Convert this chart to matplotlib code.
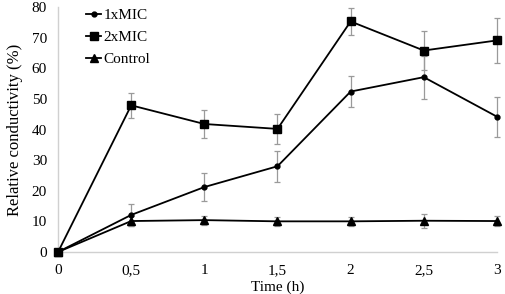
import matplotlib.pyplot as plt
import numpy as np

time = [0, 0.5, 1, 1.5, 2, 2.5, 3]
x_labels = ["0", "0,5", "1", "1,5", "2", "2,5", "3"]

mic1 = [0, 12.1, 21.2, 28.0, 52.4, 57.1, 44.2]
mic1_err = [0, 3.5, 4.6, 5.0, 5.0, 7.0, 6.5]
mic2 = [0, 47.9, 41.8, 40.2, 75.3, 65.8, 69.1]
mic2_err = [0, 4.0, 4.6, 5.0, 4.5, 6.3, 7.4]
control = [0, 10.1, 10.4, 10.0, 10.0, 10.2, 10.1]
control_err = [0, 1.5, 1.5, 1.5, 1.5, 2.3, 1.5]

plt.rcParams["font.family"] = ["Liberation Serif", "DejaVu Serif"]

fig = plt.figure(figsize=(5.05, 2.94), dpi=100)
ax = fig.add_axes([0.115, 0.143, 0.869, 0.833])

series = [
    (mic1, mic1_err, "o", 3.5, "1xMIC"),
    (mic2, mic2_err, "s", 5.5, "2xMIC"),
    (control, control_err, "^", 5.5, "Control"),
]
handles = []
for y, err, marker, ms, label in series:
    c = ax.errorbar(time, y, yerr=err, color="black", marker=marker, markersize=ms,
                    linewidth=1.3, ecolor="#9a9a9a", elinewidth=0.9, capsize=2,
                    capthick=0.9, label=label, clip_on=False, zorder=3)
    handles.append(c.lines[0])

ax.set_xlim(0, 3)
ax.set_ylim(0, 80)
ax.set_xticks(time)
ax.set_xticklabels(x_labels)
ax.set_yticks(np.arange(0, 81, 10))
ax.tick_params(length=0, labelsize=11, pad=9)
ax.tick_params(axis="y", pad=8)
for side in ["top", "right"]:
    ax.spines[side].set_visible(False)
for side in ["left", "bottom"]:
    ax.spines[side].set_color("#d0d0d0")
    ax.spines[side].set_linewidth(1.0)

ax.set_xlabel("Time (h)", fontsize=11, labelpad=2)
ax.set_ylabel("Relative conductivity (%)", fontsize=12, labelpad=6)

ax.legend(handles, [s[4] for s in series], loc="upper left", frameon=False,
          fontsize=11, handlelength=1.0, handletextpad=0.15, labelspacing=0.55,
          borderaxespad=0, bbox_to_anchor=(0.05, 1.02))

fig.savefig("out.png", dpi=100)
